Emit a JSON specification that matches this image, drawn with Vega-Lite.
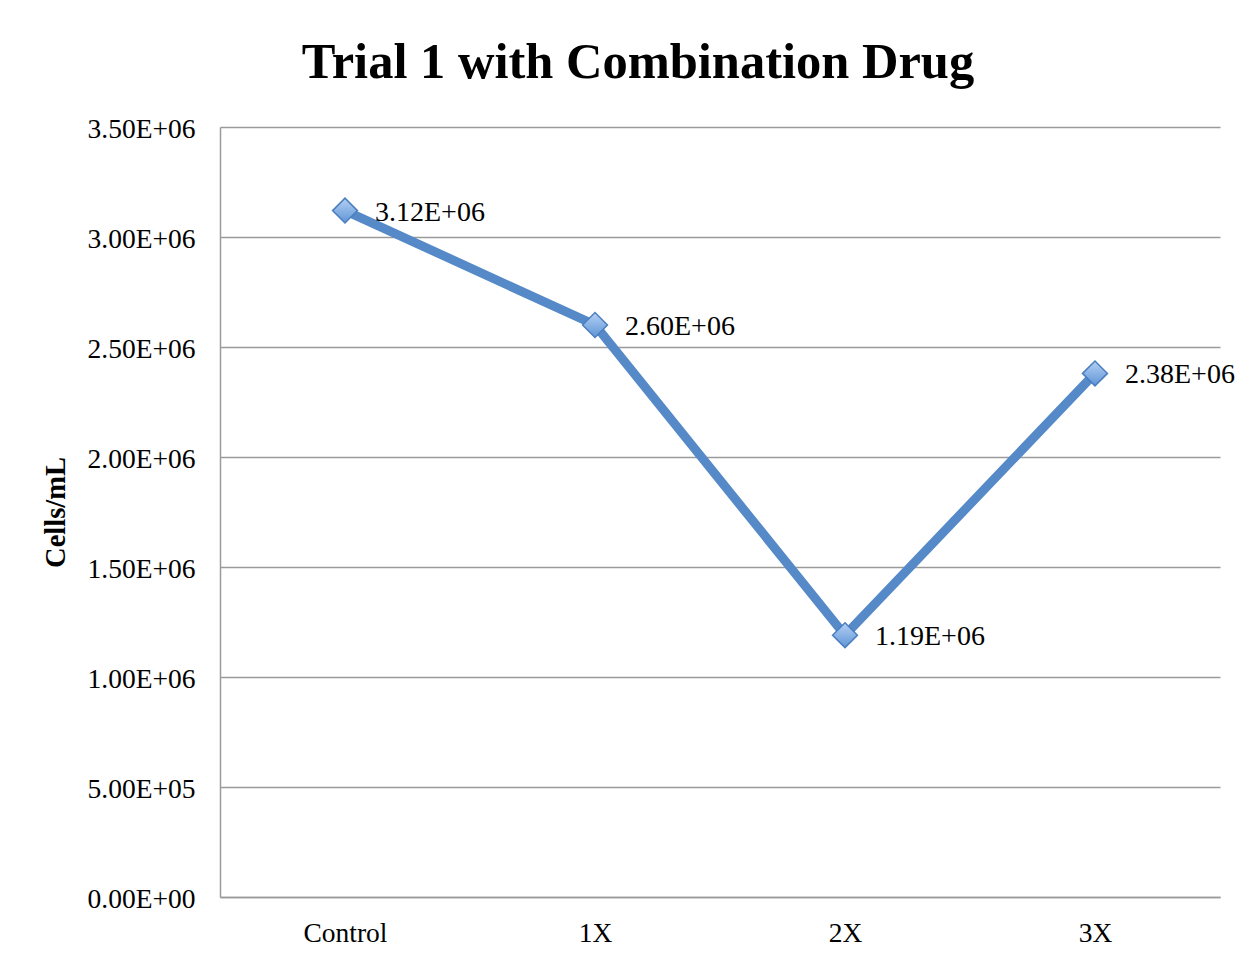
{
  "$schema": "https://vega.github.io/schema/vega-lite/v6.json",
  "width": 1000,
  "height": 770,
  "autosize": "none",
  "padding": {"left": 220, "top": 127, "right": 37, "bottom": 65},
  "background": "white",
  "title": {
    "text": "Trial 1 with Combination Drug",
    "font": "Liberation Serif",
    "fontSize": 50.5,
    "fontWeight": "bold",
    "color": "black",
    "anchor": "middle",
    "frame": "bounds",
    "offset": 27
  },
  "data": {
    "values": [
      {"dose": "Control", "cells": 3120000, "label": "3.12E+06"},
      {"dose": "1X", "cells": 2600000, "label": "2.60E+06"},
      {"dose": "2X", "cells": 1190000, "label": "1.19E+06"},
      {"dose": "3X", "cells": 2380000, "label": "2.38E+06"}
    ]
  },
  "encoding": {
    "x": {
      "field": "dose",
      "type": "ordinal",
      "sort": null,
      "scale": {"type": "point", "padding": 0.5},
      "axis": {
        "title": null,
        "labelAngle": 0,
        "labelFont": "Liberation Serif",
        "labelFontSize": 27.5,
        "labelColor": "black",
        "labelPadding": 22,
        "ticks": false,
        "grid": false,
        "domainColor": "#9a9a9a",
        "domainWidth": 1.5
      }
    },
    "y": {
      "field": "cells",
      "type": "quantitative",
      "scale": {"domain": [0, 3500000]},
      "axis": {
        "title": "Cells/mL",
        "titleFont": "Liberation Serif",
        "titleFontSize": 28.5,
        "titleFontWeight": "bold",
        "titleColor": "black",
        "titlePadding": 17,
        "values": [0, 500000, 1000000, 1500000, 2000000, 2500000, 3000000, 3500000],
        "labelExpr": "replace(format(datum.value, '.2e'), 'e+', 'E+0')",
        "labelFont": "Liberation Serif",
        "labelFontSize": 27.5,
        "labelColor": "black",
        "labelPadding": 25,
        "labelOffset": 2,
        "ticks": false,
        "grid": true,
        "gridColor": "#9a9a9a",
        "gridWidth": 1.5,
        "domainColor": "#9a9a9a",
        "domainWidth": 1.5
      }
    }
  },
  "layer": [
    {
      "mark": {"type": "line", "color": "#5589c7", "strokeWidth": 9}
    },
    {
      "mark": {
        "type": "point",
        "shape": "diamond",
        "size": 620,
        "filled": true,
        "opacity": 1,
        "fill": {
          "gradient": "linear",
          "x1": 0, "y1": 0, "x2": 0, "y2": 1,
          "stops": [
            {"offset": 0, "color": "#b4d0f4"},
            {"offset": 1, "color": "#5f95d6"}
          ]
        },
        "stroke": "#4a7ebf",
        "strokeWidth": 1.5
      }
    },
    {
      "mark": {
        "type": "text",
        "align": "left",
        "baseline": "middle",
        "dx": 30,
        "dy": 2,
        "font": "Liberation Serif",
        "fontSize": 28,
        "color": "black"
      },
      "encoding": {"text": {"field": "label"}}
    }
  ],
  "config": {"view": {"stroke": null}}
}
